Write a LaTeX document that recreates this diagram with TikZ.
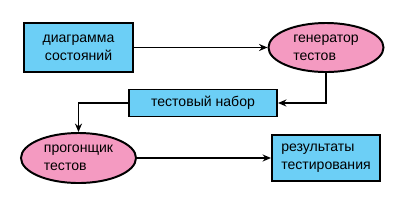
\documentclass[tikz,border=0pt]{standalone}
\usepackage{fontspec}
\setmainfont{Liberation Sans}
\usetikzlibrary{arrows.meta,positioning,shapes.geometric}

\begin{document}
\begin{tikzpicture}[x=0.025cm,y=-0.025cm,
  every node/.style={font=\fontsize{10}{12.5}\selectfont},
  blok/.style={draw,line width=1.4pt,fill=bluefill,align=left,inner sep=0pt},
  oval/.style={draw,line width=1.4pt,ellipse,fill=pinkfill,align=left,inner sep=0pt},
  con/.style={line width=1.4pt,-{Stealth[length=6pt,width=5pt]}}]
\definecolor{bluefill}{HTML}{6CCFF6}
\definecolor{pinkfill}{HTML}{F49AC1}
\useasboundingbox (0,0) rectangle (400,200);
\node[blok,align=center,minimum width=2.725cm,minimum height=1.225cm] (diag) at (78.5,47.5) {диаграмма\\состояний};
\node[oval,minimum width=2.875cm,minimum height=1.225cm] (gen) at (326,47.5) {генератор\\тестов};
\node[blok,minimum width=3.7cm,minimum height=0.675cm] (nabor) at (203,103) {тестовый набор};
\node[oval,minimum width=2.875cm,minimum height=1.25cm] (progon) at (78.5,158) {прогонщик\\тестов};
\node[blok,minimum width=2.7cm,minimum height=1.15cm] (rez) at (326,158) {результаты\\тестирования};
\draw[con] (diag) -- (gen);
\draw[con] (gen.south) |- (nabor.east);
\draw[con] (nabor.west) -| (progon.north);
\draw[con] (progon) -- (rez);
\end{tikzpicture}
\end{document}
